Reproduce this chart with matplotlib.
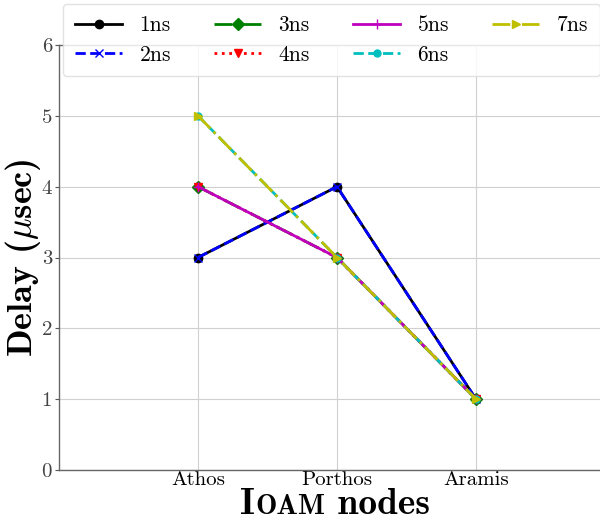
"""
IOAM ノードごとの遅延を描くスクリプト
"""
import matplotlib.pyplot as plt
from matplotlib.offsetbox import HPacker, TextArea, AnchoredOffsetbox

plt.rcParams["font.family"] = "cmr10"
plt.rcParams["mathtext.fontset"] = "cm"
plt.rcParams["axes.unicode_minus"] = False

# データ
nodes = ["Athos", "Porthos", "Aramis"]
labels = ["1ns", "2ns", "3ns", "4ns", "5ns", "6ns", "7ns"]
delays = [
    [3, 4, 1],
    [3, 4, 1],
    [4, 3, 1],
    [4, 3, 1],
    [4, 3, 1],
    [5, 3, 1],
    [5, 3, 1],
]
yticks = [0, 1, 2, 3, 4, 5, 6]

# 線のスタイル
styles = [
    dict(color="k", linestyle="-", marker="o", markersize=6),
    dict(color="b", linestyle="--", marker="x", markersize=6),
    dict(color="g", linestyle="-.", marker="D", markersize=6),
    dict(color="r", linestyle=":", marker="v", markersize=6),
    dict(color="m", linestyle="-", marker="+", markersize=7),
    dict(color="c", linestyle="--", marker="o", markersize=5),
    dict(color="y", linestyle="-.", marker=">", markersize=6),
]

fig = plt.figure(figsize=(6.0, 5.23), dpi=100)
# 右側は元図と同じく画像の外まで伸ばす
ax = fig.add_axes((59 / 600, 1 - 470 / 523, 556 / 600, 425 / 523))

xs = list(range(1, len(nodes) + 1))
for vals, lab, st in zip(delays, labels, styles):
    ax.plot(xs, vals, label=lab, linewidth=2, **st)

ax.set_xlim(0, 4)
ax.set_ylim(0, 6)
ax.set_xticks(xs)
ax.set_xticklabels(nodes, fontsize=15)
ax.set_yticks(yticks)
ax.set_yticklabels([str(v) for v in yticks], fontsize=15, color="#444444")
ax.tick_params(axis="x", length=0, pad=1)
ax.tick_params(axis="y", length=3, color="#555555", pad=2)
ax.grid(True, color="#d0d0d0", linewidth=0.8)
ax.set_axisbelow(True)
for sp in ax.spines.values():
    sp.set_color("#666666")
    sp.set_linewidth(1.0)

ax.set_ylabel(r"Delay ($\mu$sec)", family="cmb10", fontsize=26)
ax.yaxis.set_label_coords(-0.029, 0.5)

# 「IOAM nodes」を小型大文字風に組む
parts = [
    TextArea("I", textprops=dict(family="cmb10", size=27)),
    TextArea("OAM", textprops=dict(family="cmb10", size=20.5)),
    TextArea(" nodes", textprops=dict(family="cmb10", size=27)),
]
box = HPacker(children=parts, align="baseline", pad=0, sep=0)
anchored = AnchoredOffsetbox(loc="center", child=box, frameon=False,
                             bbox_to_anchor=(335 / 600, 1 - 505 / 523),
                             bbox_transform=fig.transFigure, pad=0, borderpad=0)
fig.add_artist(anchored)

leg = ax.legend(ncol=4, loc="upper left", fontsize=15.5,
                bbox_to_anchor=(63 / 600, 1 - 4 / 523),
                bbox_transform=fig.transFigure,
                handlelength=2.2, handletextpad=0.8, columnspacing=2.0,
                borderpad=0.55, labelspacing=0.45, framealpha=0.85,
                edgecolor="#dddddd", borderaxespad=0)

fig.savefig("out.png", dpi=100)
